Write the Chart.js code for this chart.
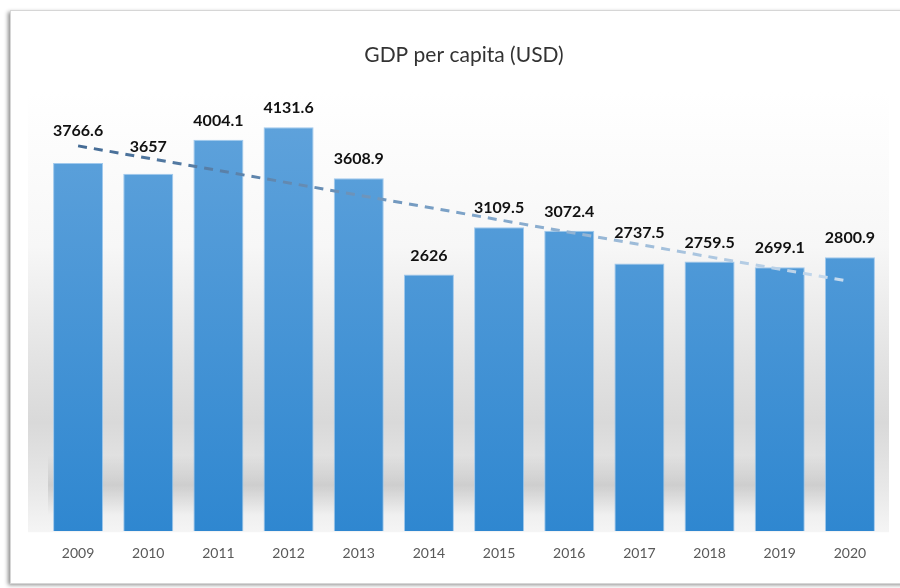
<!DOCTYPE html>
<html>
<head>
<meta charset="utf-8">
<script src="https://cdn.jsdelivr.net/npm/chart.js@4.4.1/dist/chart.umd.min.js"></script>
<style>
  html, body { margin: 0; padding: 0; background: #ffffff; }
  #wrap { width: 900px; height: 588px; position: relative; }
</style>
</head>
<body>
<div id="wrap"><canvas id="c" width="900" height="588"></canvas></div>
<script>
// ---- data ----
const years = ['2009','2010','2011','2012','2013','2014','2015','2016','2017','2018','2019','2020'];
const gdpPerCapita = [3766.6, 3657, 4004.1, 4131.6, 3608.9, 2626, 3109.5, 3072.4, 2737.5, 2759.5, 2699.1, 2800.9];
// linear trend line endpoints (2009 and 2020)
const trendStart = 3941;
const trendEnd = 2554;
const trendLine = [trendStart, null, null, null, null, null, null, null, null, null, null, trendEnd];
const chartTitle = 'GDP per capita (USD)';

// extra lift for labels moved in the original (styling only)
const labelLift = [13, 8, 0, 0, 0, 0, 0, 0, 12, 0, 0, 0];

const framePlugin = {
  id: 'frame',
  beforeDraw(chart) {
    const ctx = chart.ctx;
    const ca = chart.chartArea;
    ctx.save();
    ctx.shadowColor = 'rgba(0,0,0,0.45)';
    ctx.shadowBlur = 4;
    ctx.shadowOffsetX = -2;
    ctx.shadowOffsetY = 2;
    ctx.fillStyle = '#ffffff';
    ctx.fillRect(10, 10, 900, 573);
    ctx.shadowColor = 'transparent';
    ctx.strokeStyle = '#d6d6d6';
    ctx.lineWidth = 1;
    ctx.strokeRect(10.5, 10.5, 900, 573);

    const x0 = 28, x1 = 889, y0 = 92, y1 = ca.bottom + 1;
    const g = ctx.createLinearGradient(0, y0, 0, y1);
    g.addColorStop(0, 'rgba(255,255,255,1)');
    g.addColorStop(0.35, '#f7f7f7');
    g.addColorStop(0.62, '#e2e2e2');
    g.addColorStop(0.75, '#d9d9d9');
    g.addColorStop(0.9, '#e8e8e8');
    g.addColorStop(1, '#f5f5f5');
    ctx.fillStyle = g;
    ctx.fillRect(x0, y0, x1 - x0, y1 - y0);
    const b0 = 455, b1 = 515;
    const gb = ctx.createLinearGradient(0, b0, 0, b1);
    gb.addColorStop(0, 'rgba(0,0,0,0)');
    gb.addColorStop(0.5, 'rgba(0,0,0,0.11)');
    gb.addColorStop(1, 'rgba(0,0,0,0)');
    ctx.fillStyle = gb;
    ctx.fillRect(x0 + 20, b0, x1 - x0 - 40, b1 - b0);
    ctx.restore();
  }
};

const labelPlugin = {
  id: 'barLabels',
  afterDatasetsDraw(chart) {
    const ctx = chart.ctx;
    const meta = chart.getDatasetMeta(0);
    ctx.save();
    ctx.font = 'bold 16px Lato, "Open Sans", sans-serif';
    ctx.fillStyle = '#111111';
    ctx.textAlign = 'center';
    ctx.textBaseline = 'middle';
    meta.data.forEach((el, i) => {
      const v = chart.data.datasets[0].data[i];
      ctx.fillText(String(v), el.x, el.y - 19 - labelLift[i]);
    });
    ctx.restore();
  }
};

function barGradient(context) {
  const ca = context.chart.chartArea;
  if (!ca) return '#4a94d6';
  const g = context.chart.ctx.createLinearGradient(0, ca.top, 0, ca.bottom);
  g.addColorStop(0, '#62a4dc');
  g.addColorStop(1, '#2f87d0');
  return g;
}
function trendGradient(context) {
  const ca = context.chart.chartArea;
  if (!ca) return '#44688f';
  const g = context.chart.ctx.createLinearGradient(ca.left, 0, ca.right, 0);
  g.addColorStop(0, '#3f6690');
  g.addColorStop(0.5, '#7da3c8');
  g.addColorStop(1, '#cfe1f2');
  return g;
}

new Chart(document.getElementById('c'), {
  type: 'bar',
  data: {
    labels: years,
    datasets: [
      {
        type: 'bar',
        data: gdpPerCapita,
        backgroundColor: barGradient,
        borderColor: 'rgba(150,195,235,0.9)',
        borderWidth: 1,
        barPercentage: 0.713,
        categoryPercentage: 1,
        order: 2
      },
      {
        type: 'line',
        data: trendLine,
        spanGaps: true,
        borderColor: trendGradient,
        borderWidth: 3,
        borderDash: [9, 7],
        pointRadius: 0,
        fill: false,
        tension: 0,
        order: 1
      }
    ]
  },
  options: {
    responsive: false,
    animation: false,
    layout: { padding: { left: 43, right: 15, top: 34, bottom: 12 } },
    plugins: {
      legend: { display: false },
      tooltip: { enabled: false },
      title: {
        display: true,
        text: chartTitle,
        color: '#333333',
        font: { family: 'Lato, "Open Sans", sans-serif', size: 21, weight: 'normal' },
        padding: { top: 9, bottom: 23 }
      }
    },
    scales: {
      y: { display: false, min: 0, max: 4500 },
      x: {
        grid: { display: false, drawTicks: false },
        border: { display: false },
        ticks: {
          color: '#595959',
          padding: 14,
          font: { family: 'Lato, "Open Sans", sans-serif', size: 14 }
        }
      }
    }
  },
  plugins: [framePlugin, labelPlugin]
});
</script>
</body>
</html>
